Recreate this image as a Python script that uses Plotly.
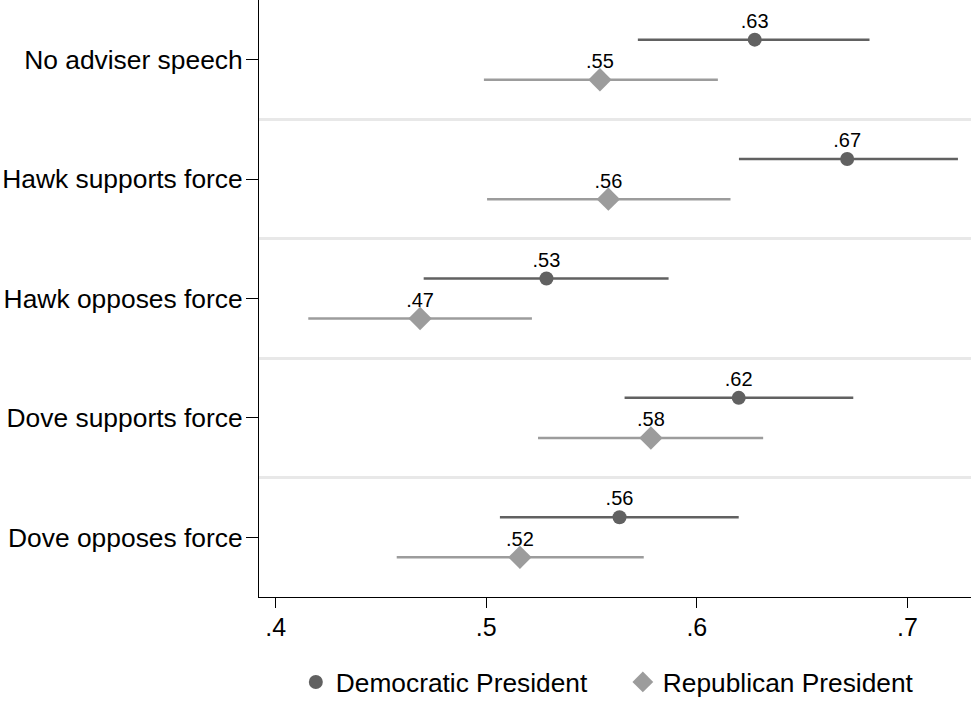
import plotly.graph_objects as go

categories = ["No adviser speech", "Hawk supports force", "Hawk opposes force",
              "Dove supports force", "Dove opposes force"]

dem_est = [0.6275, 0.6714, 0.5286, 0.6199, 0.5633]
dem_lo = [0.5720, 0.6200, 0.4703, 0.5657, 0.5065]
dem_hi = [0.6820, 0.7240, 0.5866, 0.6743, 0.6199]

rep_est = [0.5540, 0.5580, 0.4686, 0.5782, 0.5160]
rep_lo = [0.4989, 0.5004, 0.4155, 0.5246, 0.4575]
rep_hi = [0.6100, 0.6160, 0.5217, 0.6315, 0.5748]

x_ticks = [0.4, 0.5, 0.6, 0.7]
x_tick_labels = [".4", ".5", ".6", ".7"]

DEM_COLOR = "#616161"
REP_COLOR = "#9c9c9c"
FONT = "Liberation Sans, Arial, Helvetica, sans-serif"
OFFSET = 0.168

def lab(v):
    return f"{v:.2f}".lstrip("0")

idx = list(range(len(categories)))
dem_y = [i - OFFSET for i in idx]
rep_y = [i + OFFSET for i in idx]

fig = go.Figure()

fig.add_trace(go.Scatter(
    x=dem_est, y=dem_y, mode="markers",
    name="Democratic President",
    marker=dict(symbol="circle", size=14, color=DEM_COLOR),
    error_x=dict(type="data", symmetric=False,
                 array=[h - e for h, e in zip(dem_hi, dem_est)],
                 arrayminus=[e - l for e, l in zip(dem_est, dem_lo)],
                 color=DEM_COLOR, thickness=2.5, width=0),
    cliponaxis=False,
))
fig.add_trace(go.Scatter(
    x=rep_est, y=rep_y, mode="markers",
    name="Republican President",
    marker=dict(symbol="diamond", size=18, color=REP_COLOR),
    error_x=dict(type="data", symmetric=False,
                 array=[h - e for h, e in zip(rep_hi, rep_est)],
                 arrayminus=[e - l for e, l in zip(rep_est, rep_lo)],
                 color=REP_COLOR, thickness=2.5, width=0),
    cliponaxis=False,
))
# value labels (invisible anchor markers set the label gap above each point)
fig.add_trace(go.Scatter(
    x=dem_est, y=dem_y, mode="markers+text", showlegend=False, hoverinfo="skip",
    marker=dict(size=9.5, color="rgba(0,0,0,0)"),
    text=[lab(v) for v in dem_est], textposition="top center",
    textfont=dict(size=20, color="black", family=FONT), cliponaxis=False,
))
fig.add_trace(go.Scatter(
    x=rep_est, y=rep_y, mode="markers+text", showlegend=False, hoverinfo="skip",
    marker=dict(size=9, color="rgba(0,0,0,0)"),
    text=[lab(v) for v in rep_est], textposition="top center",
    textfont=dict(size=20, color="black", family=FONT), cliponaxis=False,
))

n = len(categories)
fig.update_layout(
    width=974, height=702,
    margin=dict(l=259, r=3, t=0, b=105, pad=0),
    paper_bgcolor="white", plot_bgcolor="white",
    font=dict(family=FONT, size=26, color="black"),
    showlegend=True,
    legend=dict(orientation="h", x=0.511, xanchor="center",
                yref="container", y=0.028, yanchor="middle",
                font=dict(size=26.3), itemwidth=30, tracegroupgap=0,
                entrywidth=282, entrywidthmode="pixels"),
    xaxis=dict(range=[0.3921, 0.7302], tickvals=x_ticks, ticktext=x_tick_labels,
               showgrid=False, zeroline=False, showline=True, linecolor="black",
               linewidth=1, ticks="outside", ticklen=10, tickcolor="black",
               tickfont=dict(size=25), ticklabelstandoff=-2, automargin=False),
    yaxis=dict(range=[n - 0.5, -0.5], tickvals=idx, ticktext=categories,
               showgrid=False, zeroline=False, showline=True, linecolor="black",
               linewidth=1, ticks="outside", ticklen=12, tickcolor="black",
               tickfont=dict(size=26.4), ticklabelstandoff=-2, automargin=False,
               minor=dict(tickvals=[i + 0.5 for i in idx[:-1]], showgrid=True,
                          gridcolor="#e8e8e8", gridwidth=3, ticks="")),
)

fig.write_html("out.html", config={"displayModeBar": False},
               post_script="document.body.style.margin='0';")
